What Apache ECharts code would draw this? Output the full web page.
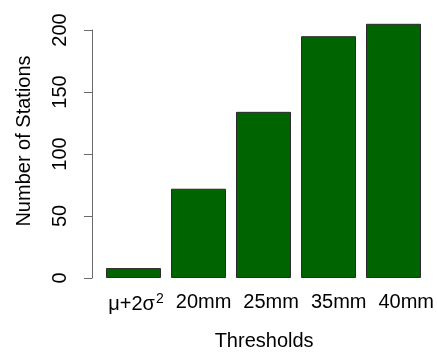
<!DOCTYPE html>
<html>
<head>
<meta charset="utf-8">
<script src="https://cdn.jsdelivr.net/npm/echarts@6/dist/echarts.min.js"></script>
<style>
  html, body { margin: 0; padding: 0; background: #fff; }
  #chart { width: 437px; height: 356px; }
</style>
</head>
<body>
<div id="chart"></div>
<script>
// Threshold categories and station counts
const categories = ['mu2sigma2', '20mm', '25mm', '35mm', '40mm'];
const stationCounts = [8, 72, 134, 195, 205];
const tickLabels = ['{g|μ+2σ}{sup|2}', '20mm', '25mm', '35mm', '40mm'];

const FONT = 'Liberation Sans, Arial, sans-serif';
const FS = 20;
const AXIS_COLOR = '#6b6b6b';

const chart = echarts.init(document.getElementById('chart'), null, { renderer: 'canvas' });

chart.setOption({
  animation: false,
  backgroundColor: '#ffffff',
  textStyle: { fontFamily: FONT },
  grid: [
    // plotting area for the bars
    { left: 101, right: 11, top: 30, bottom: 78 },
    // band carrying the threshold tick marks and labels
    { left: 136, right: 30, top: 30, bottom: 77 }
  ],
  xAxis: [
    {
      type: 'category',
      gridIndex: 0,
      data: categories,
      show: false
    },
    {
      type: 'category',
      gridIndex: 1,
      data: tickLabels,
      boundaryGap: false,
      axisLine: { show: false },
      axisTick: { show: true, interval: 0, length: 10, lineStyle: { color: AXIS_COLOR, width: 1 } },
      axisLabel: {
        interval: 0,
        margin: 24,
        color: '#000',
        fontSize: FS,
        fontFamily: FONT,
        formatter: v => v,
        rich: {
          g: { fontSize: FS, fontFamily: FONT, color: '#000' },
          sup: { fontSize: 14, fontFamily: FONT, color: '#000', verticalAlign: 'top', padding: [0, 0, 10, 1] }
        }
      },
      splitLine: { show: false },
      name: 'Thresholds',
      nameLocation: 'middle',
      nameGap: 63,
      nameTextStyle: { fontSize: FS, fontFamily: FONT, color: '#000', padding: [0, 14, 0, 0] }
    }
  ],
  yAxis: [
    {
      type: 'value',
      gridIndex: 0,
      min: 0,
      max: 200,
      interval: 50,
      offset: 9,
      axisLine: { show: true, lineStyle: { color: AXIS_COLOR, width: 1 } },
      axisTick: { show: true, length: 8, lineStyle: { color: AXIS_COLOR, width: 1 } },
      axisLabel: {
        rotate: 90,
        margin: 22,
        color: '#000',
        fontSize: FS,
        fontFamily: FONT
      },
      splitLine: { show: false },
      name: 'Number of Stations',
      nameLocation: 'middle',
      nameGap: 58,
      nameTextStyle: { fontSize: FS, fontFamily: FONT, color: '#000', padding: [0, 0, 0, 26] }
    },
    {
      type: 'value',
      gridIndex: 1,
      show: false
    }
  ],
  series: [
    {
      type: 'bar',
      xAxisIndex: 0,
      yAxisIndex: 0,
      data: stationCounts,
      barWidth: 55,
      clip: false,
      itemStyle: { color: '#006400', borderColor: '#2a2a2a', borderWidth: 1 }
    }
  ]
});
</script>
</body>
</html>
